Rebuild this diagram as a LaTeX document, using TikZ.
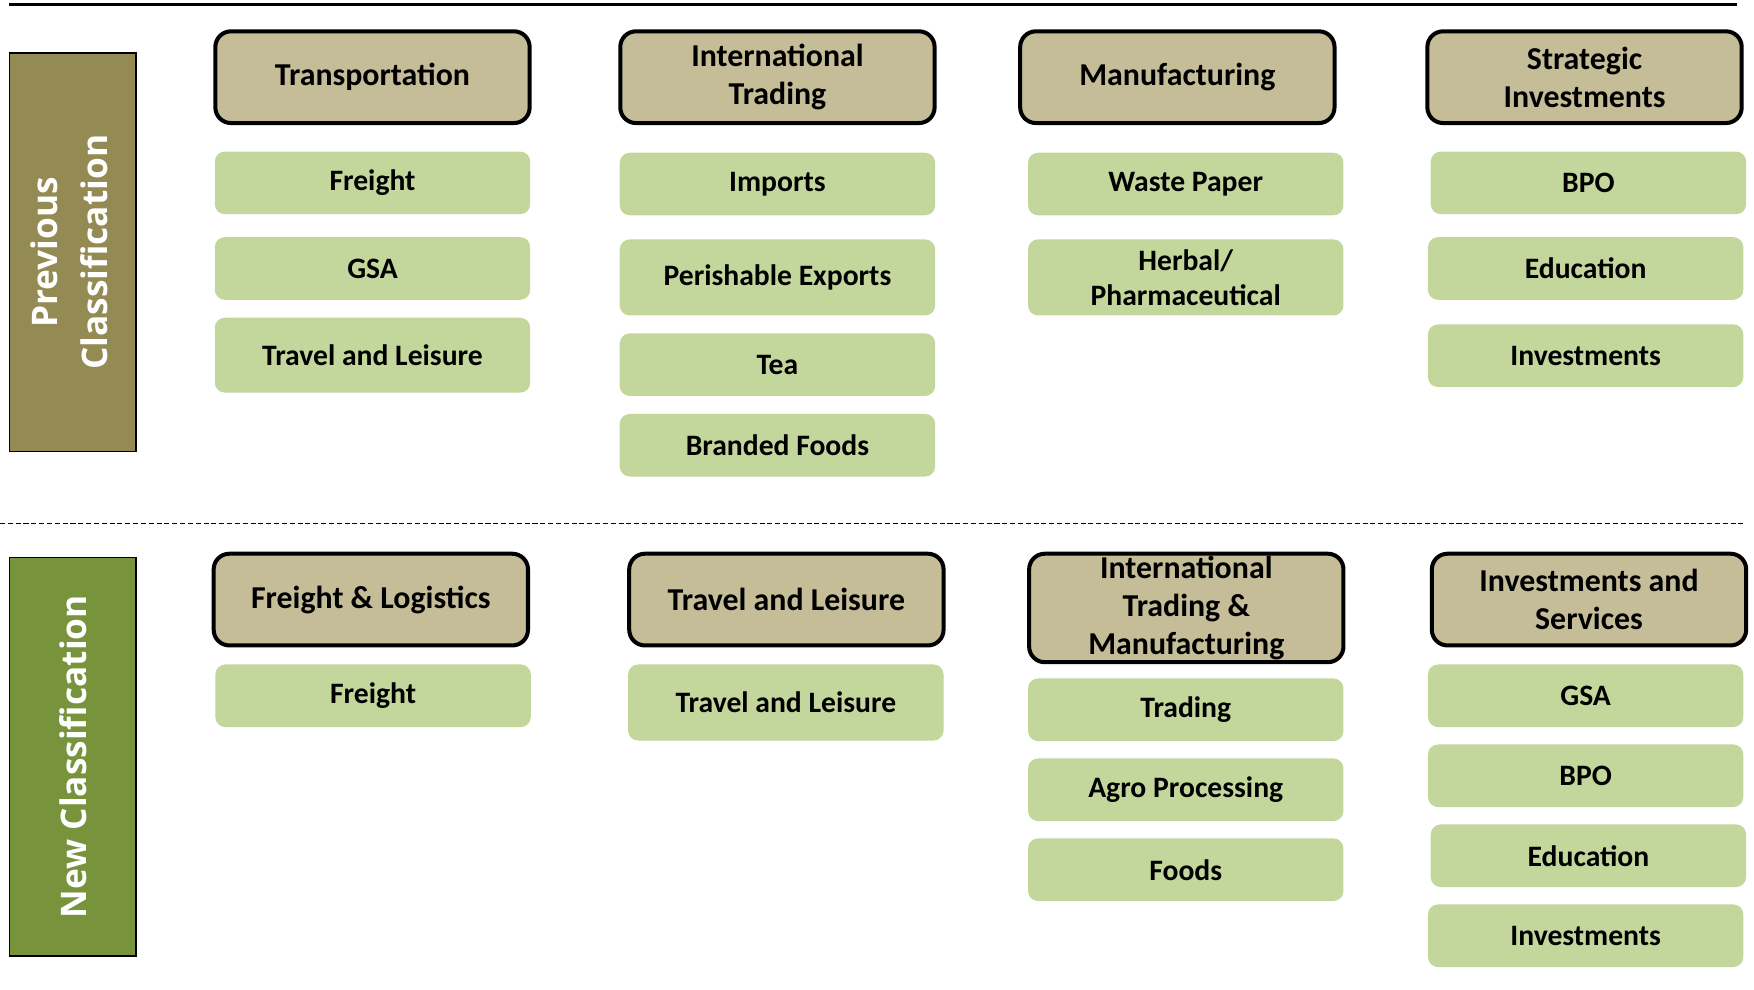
\documentclass[tikz,border=0pt]{standalone}
\usepackage{fontspec}
\setmainfont{Carlito}
\newfontfamily\sidefont{Open Sans}
\definecolor{hdrfill}{HTML}{C4BD97}
\definecolor{subfill}{HTML}{C3D69B}
\definecolor{prevfill}{HTML}{948A54}
\definecolor{newfill}{HTML}{77933C}
\begin{document}
\begin{tikzpicture}[x=1pt,y=-1pt,
  hdr/.style={draw=black, line width=3.6pt, fill=hdrfill, rounded corners=14pt,
    minimum width=281pt, minimum height=82pt, align=center, inner sep=0pt,
    font=\fontsize{28.5}{34}\selectfont\bfseries},
  sub/.style={fill=subfill, rounded corners=9pt, minimum width=282pt,
    minimum height=56pt, align=center, inner sep=0pt,
    font=\fontsize{26.5}{31}\selectfont\bfseries},
  side/.style={draw=black, line width=1.2pt, minimum width=113pt,
    minimum height=356pt, inner sep=0pt, text=white, align=center,
    font=\sidefont\fontsize{31.5}{44}\selectfont\bfseries}]
\useasboundingbox (0,0) rectangle (1568,885);

% rules separating the two halves
\coordinate (topL) at (8,4);
\coordinate (topR) at (1553,4);
\draw[line width=2pt] (topL) -- (topR);
\coordinate (midL) at (0,468);
\coordinate (midR) at (1560,468);
\draw[line width=1.1pt, dash pattern=on 4.5pt off 2.5pt] (midL) -- (midR);

% side labels
\node[side, fill=prevfill] (prev) at (65,225.5) {\rotatebox{90}{\begin{tabular}{@{}c@{}}Previous\\Classification\end{tabular}}};
\node[side, fill=newfill] (new) at (65,676.5) {\rotatebox{90}{New Classification}};

% previous classification
\node[hdr] (h1) at (333,69) {Transportation};
\node[sub] (a1) at (333,163.5) {Freight};
\node[sub] (a2) at (333,240) {GSA};
\node[sub, minimum height=67pt] (a3) at (333,317.5) {Travel and Leisure};

\node[hdr] (h2) at (695,69) {International\\Trading};
\node[sub] (b1) at (695,164.5) {Imports};
\node[sub, minimum height=68pt] (b2) at (695,248) {Perishable Exports};
\node[sub] (b3) at (695,326) {Tea};
\node[sub] (b4) at (695,398) {Branded Foods};

\node[hdr] (h3) at (1052.5,69) {Manufacturing};
\node[sub] (c1) at (1060,164.5) {Waste Paper};
\node[sub, minimum height=68pt] (c2) at (1060,248) {Herbal/\\Pharmaceutical};

\node[hdr] (h4) at (1416.5,69) {Strategic\\Investments};
\node[sub] (d1) at (1420,163.5) {BPO};
\node[sub] (d2) at (1417.5,240) {Education};
\node[sub] (d3) at (1417.5,318) {Investments};

% new classification
\node[hdr] (n1) at (331.5,536) {Freight \& Logistics};
\node[sub] (e1) at (333.5,622) {Freight};

\node[hdr] (n2) at (703,536) {Travel and Leisure};
\node[sub, minimum height=68pt] (f1) at (702.5,628) {Travel and Leisure};

\node[hdr, minimum height=97pt] (n3) at (1060.5,543.5) {International\\Trading \&\\Manufacturing};
\node[sub] (g1) at (1060,634.5) {Trading};
\node[sub] (g2) at (1060,706) {Agro Processing};
\node[sub] (g3) at (1060,777.5) {Foods};

\node[hdr] (n4) at (1420.5,536) {Investments and\\Services};
\node[sub] (k1) at (1417.5,622) {GSA};
\node[sub] (k2) at (1417.5,693.5) {BPO};
\node[sub] (k3) at (1420,765) {Education};
\node[sub] (k4) at (1417.5,836.5) {Investments};
\end{tikzpicture}
\end{document}
